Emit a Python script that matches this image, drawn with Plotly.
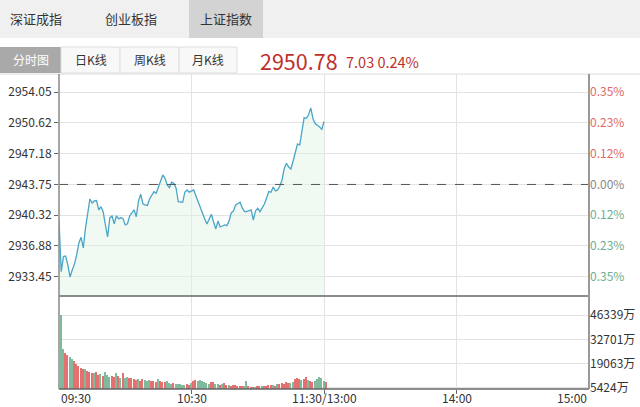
import plotly.graph_objects as go

# ---------------- data ----------------
prev_close = 2943.75
last_price = "2950.78"
change_txt = "7.03"
change_pct = "0.24%"

minutes = list(range(0, 121))
prices = [
    2939.71, 2934.01, 2935.69, 2935.76, 2934.76, 2933.42, 2934.20, 2934.87, 2935.88, 2937.22,
    2937.85, 2936.66, 2938.89, 2940.68, 2942.13, 2941.68, 2941.91, 2941.95, 2940.90, 2941.27,
    2940.71, 2939.23, 2937.89, 2940.01, 2940.23, 2939.34, 2940.25, 2939.90, 2940.03, 2939.95,
    2939.23, 2939.36, 2940.23, 2940.57, 2940.90, 2940.15, 2941.91, 2942.66, 2941.57, 2941.46,
    2941.40, 2942.13, 2942.58, 2942.95, 2942.77, 2943.50, 2944.14, 2944.81, 2944.44, 2943.69,
    2943.39, 2944.00, 2943.88, 2943.36, 2941.83, 2941.80, 2941.76, 2942.91, 2943.14, 2942.89,
    2943.02, 2943.14, 2942.47, 2941.80, 2941.09, 2940.34, 2939.90, 2939.34, 2939.88, 2940.42,
    2939.56, 2938.78, 2939.67, 2939.00, 2939.11, 2939.23, 2939.15, 2939.67, 2940.57, 2940.79,
    2941.46, 2941.57, 2941.76, 2941.13, 2940.71, 2940.73, 2940.79, 2940.90, 2939.78, 2940.79,
    2941.09, 2940.71, 2941.13, 2941.57, 2942.24, 2942.95, 2942.88, 2943.47, 2943.02, 2943.14,
    2943.58, 2944.25, 2945.54, 2946.12, 2945.70, 2945.48, 2946.37, 2947.38, 2948.27, 2948.16,
    2949.61, 2951.21, 2951.14, 2951.51, 2952.30, 2951.12, 2950.56, 2950.40, 2950.17, 2949.92,
    2950.78,
]
volumes = [  # 万
    46339, 27100, 25000, 23800, 23000, 21500, 20500, 19000, 17800, 16900,
    16300, 15800, 15200, 14600, 14100, 13600, 14400, 12900, 13200, 12400,
    14300, 12600, 11800, 12200, 11500, 13800, 12000, 11200, 13600, 10800,
    11400, 10900, 11300, 10400, 9900, 10500, 9600, 10200, 9800, 9400,
    9700, 9100, 9500, 9000, 10300, 9200, 8800, 8600, 9100, 8300,
    7900, 8200, 7600, 7400, 7800, 7300, 7000, 7900, 7200, 8500,
    9400, 9900, 9600, 10100, 9300, 8600, 8200, 7500, 8800, 8900,
    7700, 7400, 7100, 7600, 8200, 7300, 7100, 6800, 7200, 6900,
    6600, 6500, 6700, 6300, 9600, 6400, 6100, 6000, 6200, 6500,
    6300, 6400, 6800, 6600, 6900, 7300, 7000, 6700, 7500, 7900,
    8300, 7800, 9000, 8500, 8200, 8800, 10200, 11300, 10700, 9900,
    10400, 11600, 9800, 9300, 8700, 9400, 10600, 11800, 10900, 9200,
    8600,
]

price_ticks = [2954.05, 2950.62, 2947.18, 2943.75, 2940.32, 2936.88, 2933.45]
price_tick_text = ["2954.05", "2950.62", "2947.18", "2943.75", "2940.32", "2936.88", "2933.45"]
pct_tick_text = ["0.35%", "0.23%", "0.12%", "0.00%", "0.12%", "0.23%", "0.35%"]
vol_ticks = [46339, 32701, 19063, 5424]
vol_tick_text = ["46339万", "32701万", "19063万", "5424万"]
time_ticks = [0, 60, 120, 180, 240]
time_labels = ["09:30", "10:30", "11:30/13:00", "14:00", "15:00"]
tabs = ["深证成指", "创业板指", "上证指数"]
buttons = ["分时图", "日K线", "周K线", "月K线"]

# ---------------- layout geometry ----------------
W, H = 640, 407
ML, MR, MT, MB = 59, 51, 74, 18
PW, PH = W - ML - MR, H - MT - MB
SPLIT = 296  # pixel row between the two panels
vol_dom_top = (H - MB - SPLIT) / PH


def px(x):
    return (x - ML) / PW


def py(y):
    return (H - MB - y) / PH


FONT = "Noto Sans CJK SC, Noto Sans, sans-serif"

# colours of volume bars: up = red, down = green
bar_colors = []
for i, p in enumerate(prices):
    ref = prev_close if i == 0 else prices[i - 1]
    bar_colors.append("#e57070" if p >= ref else "#80b99b")

pct_colored = []
for v, t in zip(price_ticks, pct_tick_text):
    if v > prev_close + 0.01:
        c = "#e06a6a"
    elif v < prev_close - 0.01:
        c = "#6fae8e"
    else:
        c = "#888888"
    pct_colored.append('<span style="color:%s">%s</span>' % (c, t))

fig = go.Figure()
fig.add_trace(go.Scatter(
    x=minutes, y=prices, mode="lines", xaxis="x", yaxis="y",
    line=dict(color="#4aa6c6", width=1.3),
    fill="tozeroy", fillcolor="rgba(225,242,228,0.45)",
    hoverinfo="skip", showlegend=False,
))
fig.add_trace(go.Bar(
    x=minutes, y=volumes, xaxis="x2", yaxis="y2",
    marker=dict(color=bar_colors, line=dict(width=0)), width=0.6, offset=0.55,
    hoverinfo="skip", showlegend=False,
))
# dummy trace for right percent axis
fig.add_trace(go.Scatter(x=[None], y=[None], xaxis="x", yaxis="y3", showlegend=False))

yr = [2931.29, 2956.09]

fig.update_layout(
    width=W, height=H,
    margin=dict(l=ML, r=MR, t=MT, b=MB, autoexpand=False),
    paper_bgcolor="white", plot_bgcolor="white",
    font=dict(family=FONT, size=12, color="#333"),
    bargap=0,
    xaxis=dict(domain=[0, 1], range=[0, 240], anchor="y", showticklabels=False,
               tickvals=[60, 120, 180], showgrid=True, gridcolor="#e3e3e3",
               zeroline=False, showline=False, ticks="", automargin=False),
    xaxis2=dict(domain=[0, 1], range=[0, 240], anchor="y2", showticklabels=False,
                tickvals=[60, 120, 180], showgrid=True, gridcolor="#e3e3e3",
                zeroline=False, showline=False, ticks="outside", ticklen=4, tickcolor="#666",
                automargin=False),
    yaxis=dict(domain=[vol_dom_top, 1], range=yr, tickvals=price_ticks, ticktext=price_tick_text,
               showgrid=True, gridcolor="#e3e3e3", zeroline=False, showline=False,
               ticks="outside", ticklen=4, tickcolor="#666", automargin=False,
               tickfont=dict(size=12, color="#333")),
    yaxis3=dict(overlaying="y", side="right", range=yr, tickvals=price_ticks,
                ticktext=pct_colored, showgrid=False, zeroline=False, showline=False,
                automargin=False, tickfont=dict(size=12)),
    yaxis2=dict(domain=[0, vol_dom_top], range=[4860, 57000], side="right",
                tickvals=vol_ticks, ticktext=vol_tick_text, showgrid=True, gridcolor="#e3e3e3",
                zeroline=False, showline=False, automargin=False,
                tickfont=dict(size=12, color="#333")),
)

shapes = []
# header tab bar
shapes.append(dict(type="rect", xref="paper", yref="paper", x0=px(0), x1=px(640), y0=py(38), y1=py(0),
                   fillcolor="#f0f0f0", line=dict(width=0), layer="below"))
shapes.append(dict(type="rect", xref="paper", yref="paper", x0=px(189), x1=px(263), y0=py(38), y1=py(0),
                   fillcolor="#d3d3d3", line=dict(width=0), layer="below"))
# buttons
btn_edges = [(0, 61), (61, 120), (120, 179), (179, 237)]
for i, (a, b) in enumerate(btn_edges):
    if i == 0:
        shapes.append(dict(type="rect", xref="paper", yref="paper", x0=px(a), x1=px(b), y0=py(73), y1=py(47),
                           fillcolor="#a9a9a9", line=dict(width=0)))
    else:
        shapes.append(dict(type="rect", xref="paper", yref="paper", x0=px(a), x1=px(b), y0=py(73), y1=py(47),
                           fillcolor="#f8f8f8", line=dict(width=1, color="#dedede")))
# top border line
shapes.append(dict(type="line", xref="paper", yref="paper", x0=px(0), x1=px(640), y0=py(74), y1=py(74),
                   line=dict(color="#dcdcdc", width=1)))
# previous close dashed line
shapes.append(dict(type="line", xref="x", yref="y", x0=0, x1=240, y0=prev_close, y1=prev_close,
                   line=dict(color="#555", width=1, dash="dash")))
# panel bottoms
shapes.append(dict(type="line", xref="paper", yref="paper", x0=px(59), x1=px(589), y0=py(SPLIT), y1=py(SPLIT),
                   line=dict(color="#666", width=1.5)))
shapes.append(dict(type="line", xref="paper", yref="paper", x0=px(59), x1=px(589), y0=py(389), y1=py(389),
                   line=dict(color="#666", width=1.5)))
# axis lines
shapes.append(dict(type="line", xref="paper", yref="paper", x0=px(59), x1=px(59), y0=py(389), y1=py(74),
                   line=dict(color="#888", width=1.5)))
shapes.append(dict(type="line", xref="paper", yref="paper", x0=px(589), x1=px(589), y0=py(389), y1=py(74),
                   line=dict(color="#999", width=2)))
fig.update_layout(shapes=shapes)

ann = []
tab_x = [36, 131, 226]
for t, x in zip(tabs, tab_x):
    ann.append(dict(text=t, xref="paper", yref="paper", x=px(x), y=py(19), showarrow=False,
                    xanchor="center", yanchor="middle", font=dict(size=13, color="#333")))
btn_x = [30.5, 90.5, 149.5, 208]
for i, (t, x) in enumerate(zip(buttons, btn_x)):
    ann.append(dict(text=t, xref="paper", yref="paper", x=px(x), y=py(60), showarrow=False,
                    xanchor="center", yanchor="middle",
                    font=dict(size=12, color="white" if i == 0 else "#333")))
ann.append(dict(text=last_price, xref="paper", yref="paper", x=px(258), y=py(61), showarrow=False,
                xanchor="left", yanchor="middle", font=dict(size=21.5, color="#c0302b")))
ann.append(dict(text=change_txt + " " + change_pct, xref="paper", yref="paper", x=px(344), y=py(62),
                showarrow=False, xanchor="left", yanchor="middle", font=dict(size=14.5, color="#c0302b")))
for v, t in zip(time_ticks, time_labels):
    anchor = "left" if v == 0 else ("right" if v == 240 else "center")
    ann.append(dict(text=t, xref="x2", yref="paper", x=v, y=py(398), showarrow=False,
                    xanchor=anchor, yanchor="middle", font=dict(size=12, color="#333")))
fig.update_layout(annotations=ann)

fig.write_html(
    "out.html",
    config={"displayModeBar": False},
    post_script="document.body.style.margin='0';document.body.style.overflow='hidden';",
)
